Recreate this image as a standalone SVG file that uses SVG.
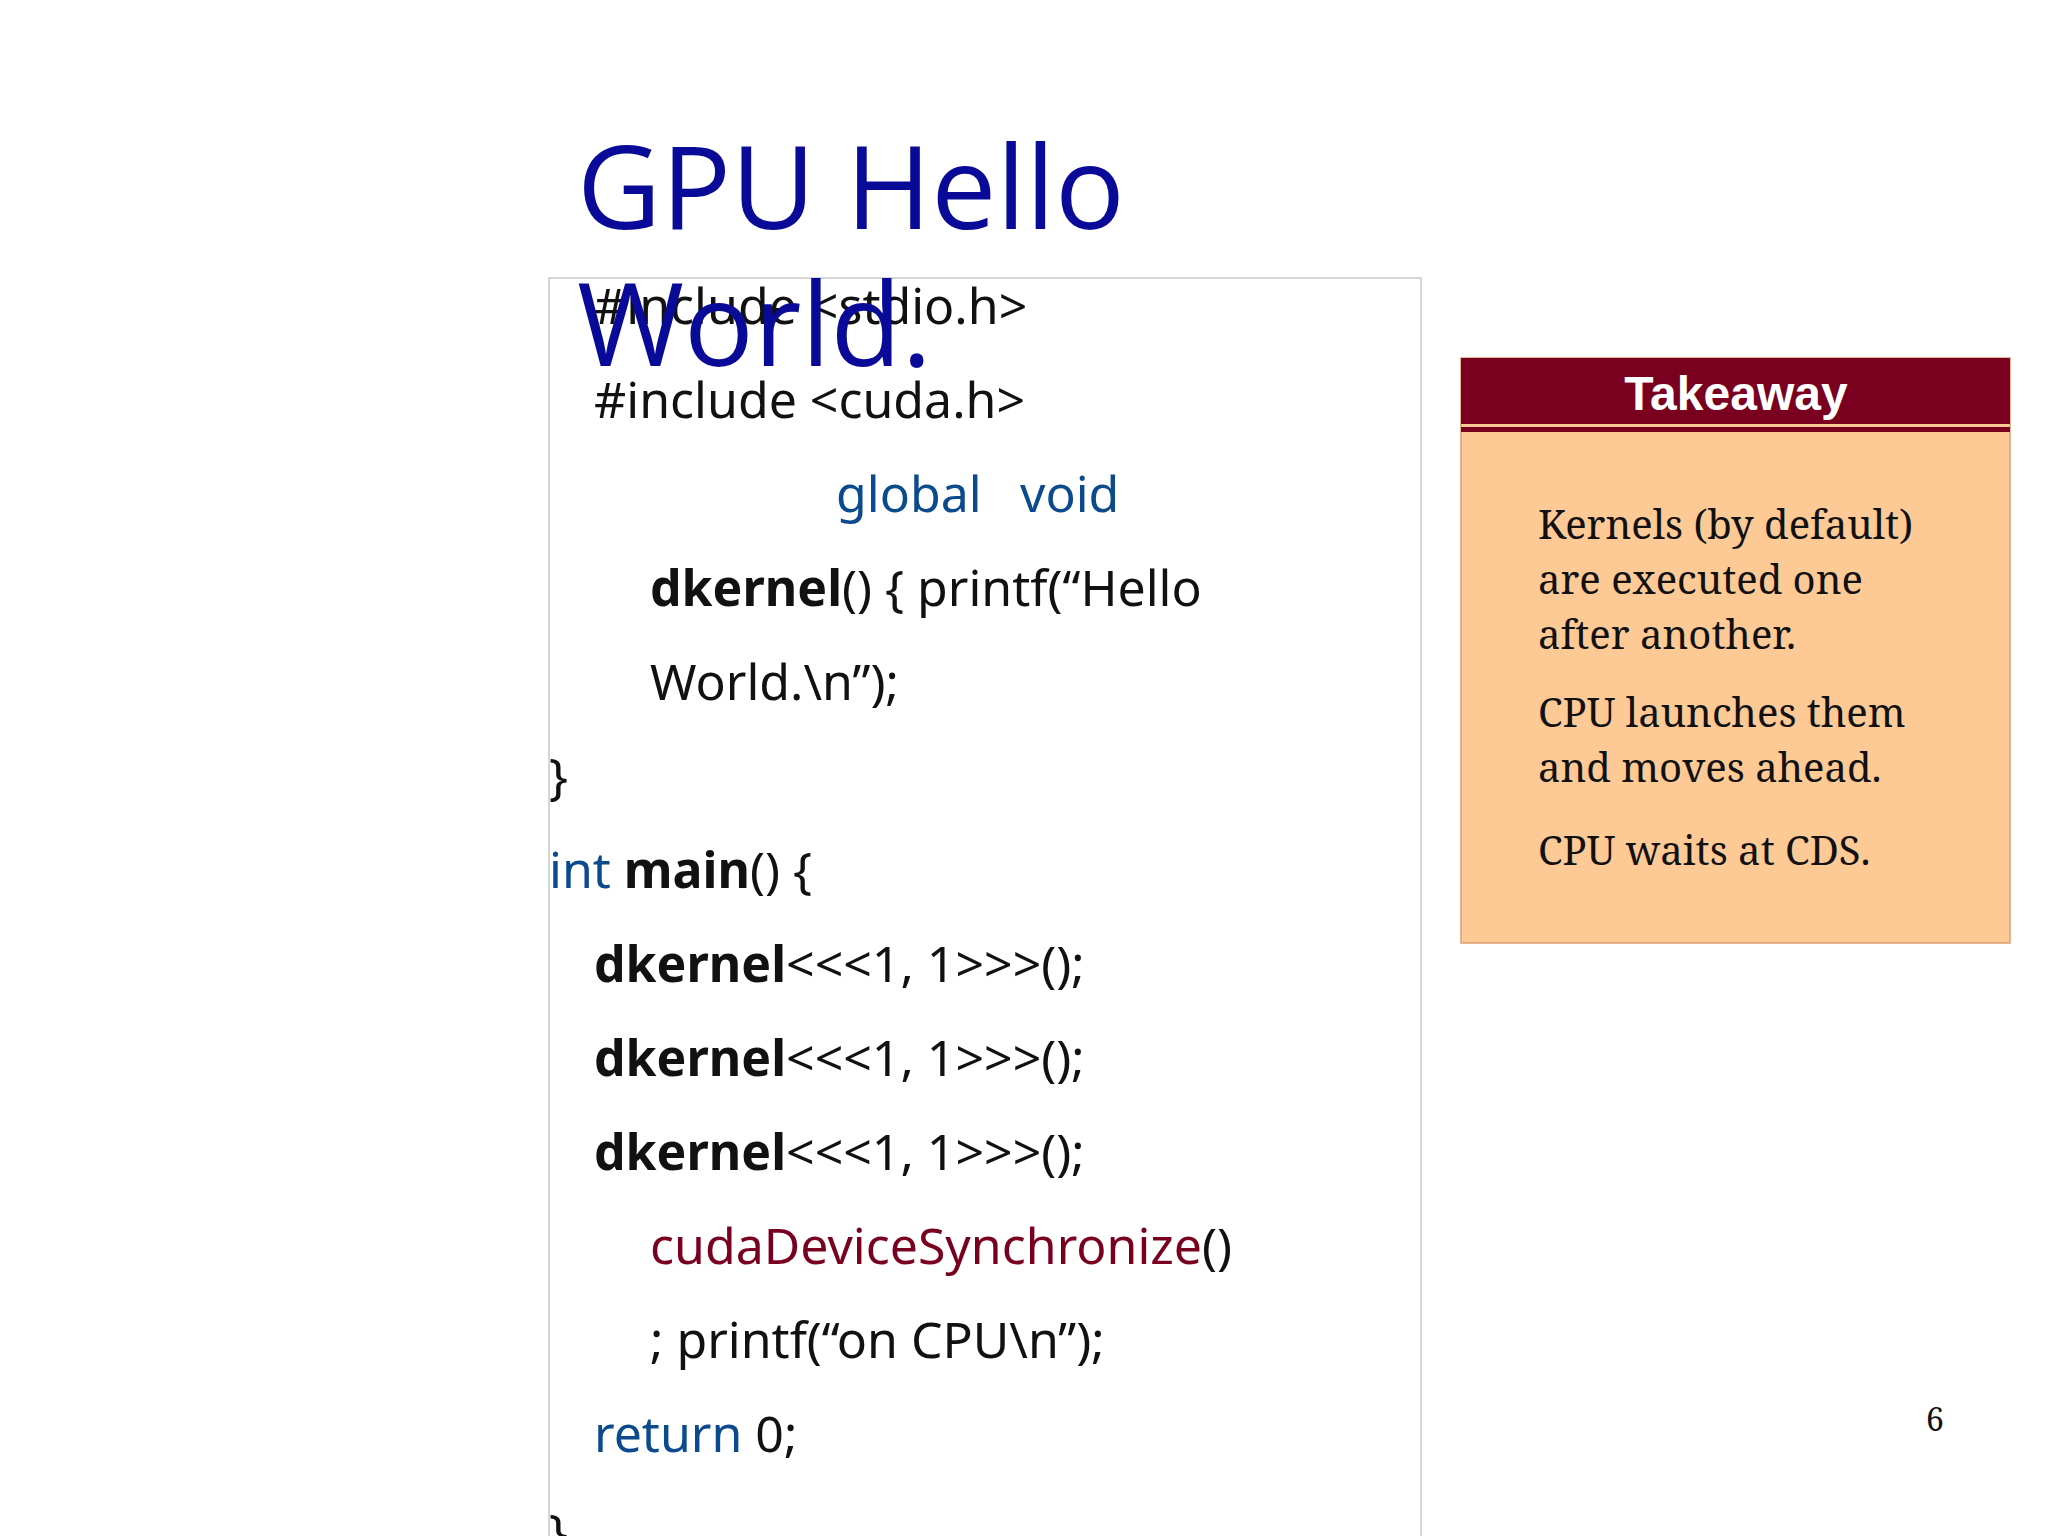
<svg xmlns="http://www.w3.org/2000/svg" width="2048" height="1536" viewBox="0 0 2048 1536">
<style>
.code{font-family:"Noto Sans","Open Sans",sans-serif;font-size:50px;fill:#111}
.kw{fill:#0b4a8c}
.b{font-weight:bold}
.tk{font-family:"Noto Serif","DejaVu Serif",serif;font-size:40px;fill:#111}
</style>
<rect width="2048" height="1536" fill="#fff"/>
<g id="code">
<rect x="549" y="278" width="872" height="1270" fill="#fff" stroke="#c8c8c8" stroke-width="1.5"/>
<text class="code" x="594" y="324">#include &lt;stdio.h&gt;</text>
<text class="code" x="594" y="418">#include &lt;cuda.h&gt;</text>
<text class="code kw" x="836" y="512">global</text>
<text class="code kw" x="1020" y="512">void</text>
<text class="code" x="650" y="606"><tspan class="b">dkernel</tspan>() { printf(“Hello</text>
<text class="code" x="650" y="700">World.\n”);</text>
<text class="code" x="549" y="794">}</text>
<text class="code" x="549" y="888"><tspan class="kw">int</tspan> <tspan class="b">main</tspan>() {</text>
<text class="code" x="594" y="982"><tspan class="b">dkernel</tspan>&lt;&lt;&lt;1, 1&gt;&gt;&gt;();</text>
<text class="code" x="594" y="1076"><tspan class="b">dkernel</tspan>&lt;&lt;&lt;1, 1&gt;&gt;&gt;();</text>
<text class="code" x="594" y="1170"><tspan class="b">dkernel</tspan>&lt;&lt;&lt;1, 1&gt;&gt;&gt;();</text>
<text class="code" x="650" y="1264"><tspan fill="#7a0020">cudaDeviceSynchronize</tspan>()</text>
<text class="code" x="650" y="1358">; printf(“on CPU\n”);</text>
<text class="code" x="594" y="1452"><tspan class="kw">return</tspan> 0;</text>
<text class="code" x="549" y="1550">}</text>
</g>
<g id="title">
<text x="577" y="229" font-family="'Open Sans','Noto Sans',sans-serif" font-size="116" fill="#0a0a99">GPU Hello</text>
<text x="577" y="366" font-family="'Open Sans','Noto Sans',sans-serif" font-size="116" fill="#0a0a99">World.</text>
</g>
<g id="takeaway">
<rect x="1461" y="358" width="549" height="585" fill="#fdc995" stroke="#d9a070" stroke-width="1.5"/>
<rect x="1461" y="358" width="549" height="66" fill="#7a0020"/>
<rect x="1461" y="427" width="549" height="5" fill="#7a0020"/>
<text x="1736" y="410" text-anchor="middle" font-family="'Liberation Sans',Arial,sans-serif" font-weight="bold" font-size="48" fill="#fff">Takeaway</text>
<text class="tk" x="1538" y="539">Kernels (by default)</text>
<text class="tk" x="1538" y="594">are executed one</text>
<text class="tk" x="1538" y="649">after another.</text>
<text class="tk" x="1538" y="727">CPU launches them</text>
<text class="tk" x="1538" y="782">and moves ahead.</text>
<text class="tk" x="1538" y="865">CPU waits at CDS.</text>
</g>
<text x="1935" y="1431" text-anchor="middle" font-family="'Noto Serif','DejaVu Serif',serif" font-size="32" fill="#111">6</text>
</svg>
